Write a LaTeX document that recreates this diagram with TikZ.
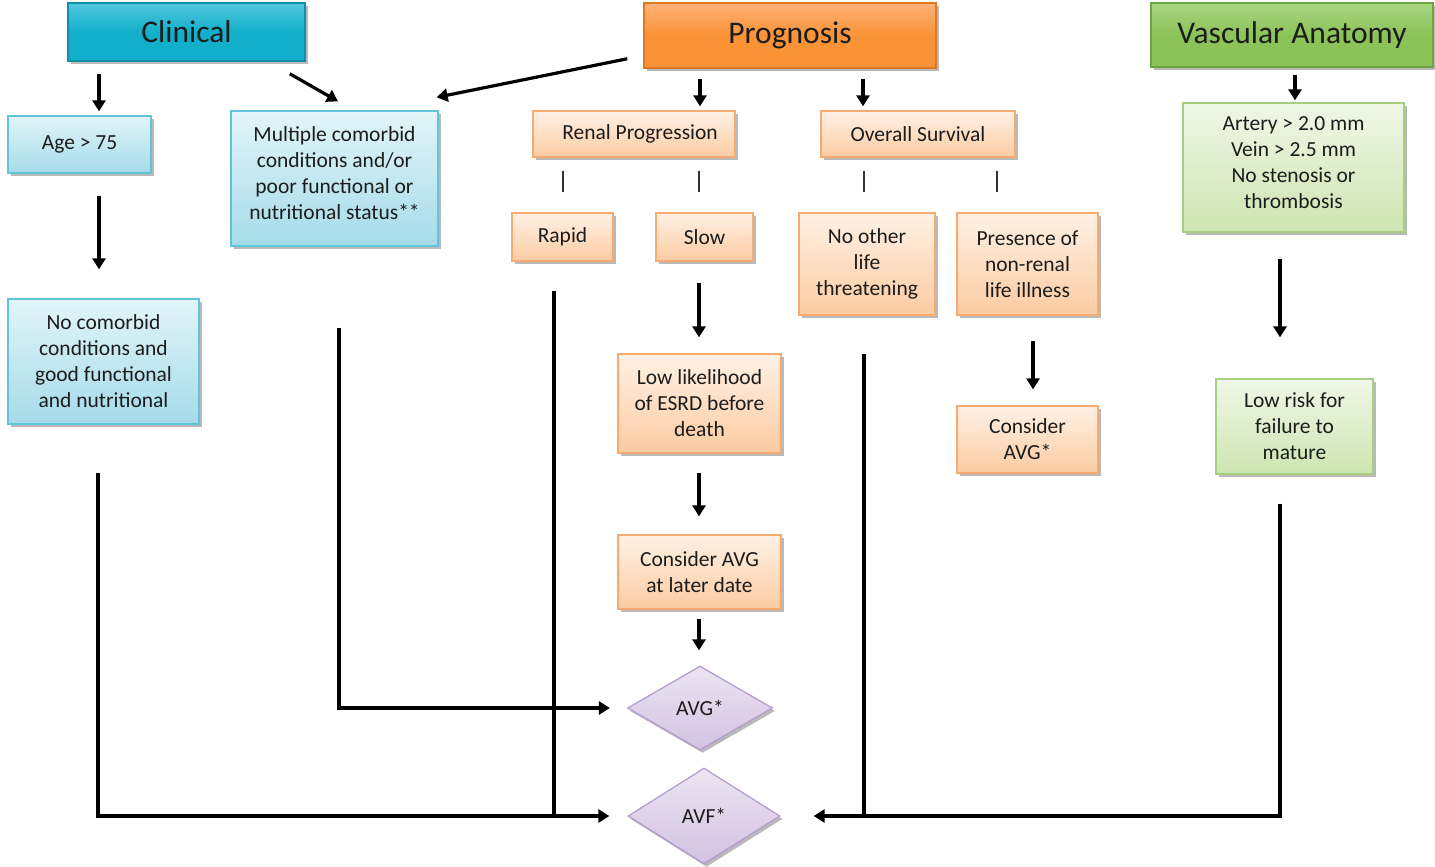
\documentclass[tikz,border=0pt]{standalone}
\usepackage{fontspec}
\setmainfont{Carlito}
\usetikzlibrary{arrows.meta,shapes.geometric,shadows,calc}

\definecolor{txt}{HTML}{1C1C1C}
\definecolor{cyanTop}{HTML}{E2F5F9}
\definecolor{cyanBot}{HTML}{A5DBE9}
\definecolor{cyanLine}{HTML}{62C4DA}
\definecolor{orTop}{HTML}{FFF1E5}
\definecolor{orBot}{HTML}{FCCBA2}
\definecolor{orLine}{HTML}{F7AB70}
\definecolor{grTop}{HTML}{F0F7E7}
\definecolor{grBot}{HTML}{CCE5B1}
\definecolor{grLine}{HTML}{A6CF80}
\definecolor{puTop}{HTML}{ECE4F2}
\definecolor{puBot}{HTML}{D2C2E2}
\definecolor{puLine}{HTML}{B59ECF}
\definecolor{hCyanTop}{HTML}{52C8DE}
\definecolor{hCyan}{HTML}{12AFCB}
\definecolor{hCyanLine}{HTML}{0E8EA7}
\definecolor{hOrTop}{HTML}{FDB27A}
\definecolor{hOr}{HTML}{F99335}
\definecolor{hOrLine}{HTML}{E27722}
\definecolor{hGrTop}{HTML}{AAD583}
\definecolor{hGr}{HTML}{8BC358}
\definecolor{hGrLine}{HTML}{6AA53E}

\tikzset{
  shade/.style={drop shadow={shadow xshift=2.5pt, shadow yshift=-3pt, fill=black!50, opacity=0.55}},
  box/.style={rectangle, draw, line width=1.3pt, inner sep=2pt, align=center,
    text=txt, font=\fontsize{21.5}{26}\selectfont, shade},
  cbox/.style={box, draw=cyanLine, top color=cyanTop, bottom color=cyanBot},
  obox/.style={box, draw=orLine, top color=orTop, bottom color=orBot},
  gbox/.style={box, draw=grLine, top color=grTop, bottom color=grBot},
  header/.style={rectangle, draw, line width=1.5pt, align=center, text=txt,
    font=\fontsize{31.5}{34}\selectfont, shade},
  diam/.style={diamond, draw=puLine, line width=1.3pt, inner sep=0pt,
    top color=puTop, bottom color=puBot, text=txt,
    font=\fontsize{21.5}{24}\selectfont, shade},
  arr/.style={line width=3.2pt, draw=black, -{Triangle[length=11pt,width=13pt]}},
  plain/.style={line width=3.2pt, draw=black},
  tick/.style={line width=2pt, draw=black!80},
}

\begin{document}
\begin{tikzpicture}[x=1pt,y=-1pt]
\fill[white] (0,0) rectangle (1435,867);
\useasboundingbox (0,0) rectangle (1435,867);

% headers
\node[header, draw=hCyanLine, top color=hCyanTop, bottom color=hCyan, middle color=hCyan,
      minimum width=237, minimum height=58] (clin) at (186.5,32) {Clinical};
\node[header, draw=hOrLine, top color=hOrTop, bottom color=hOr, middle color=hOr,
      minimum width=292, minimum height=65] (prog) at (790,35.5) {Prognosis};
\node[header, draw=hGrLine, top color=hGrTop, bottom color=hGr, middle color=hGr,
      minimum width=282, minimum height=64] (vasc) at (1292,35) {Vascular Anatomy};

% clinical branch
\node[cbox, minimum width=143, minimum height=57] (age) at (79.5,144.5) {Age > 75};
\node[cbox, minimum width=207, minimum height=135] (multi) at (334.5,178.5)
  {Multiple comorbid\\conditions and/or\\poor functional or\\nutritional status**\\[-16pt]};
\node[cbox, minimum width=191, minimum height=125] (nocom) at (103.5,361.5)
  {No comorbid\\conditions and\\good functional\\and nutritional};

% prognosis branch
\node[obox, minimum width=202, minimum height=46] (renal) at (634,134) {\hspace*{12pt}Renal Progression};
\node[obox, minimum width=194, minimum height=46] (overall) at (918,134) {Overall Survival};
\node[obox, minimum width=101, minimum height=48] (rapid) at (562.5,237) {Rapid};
\node[obox, minimum width=97, minimum height=48] (slow) at (704.5,237) {Slow};
\node[obox, minimum width=136, minimum height=102] (noother) at (867,264)
  {No other\\life\\threatening};
\node[obox, minimum width=141, minimum height=102] (presence) at (1027.5,264)
  {Presence of\\non-renal\\life illness};
\node[obox, minimum width=163, minimum height=99] (lowlik) at (699.5,403.5)
  {Low likelihood\\of ESRD before\\death};
\node[obox, minimum width=141, minimum height=67] (consA) at (1027.5,439.5)
  {Consider\\AVG*};
\node[obox, minimum width=163, minimum height=74] (later) at (699.5,572)
  {Consider AVG\\at later date};

% vascular branch
\node[gbox, minimum width=221, minimum height=129] (artery) at (1293.5,167.5)
  {Artery > 2.0 mm\\Vein > 2.5 mm\\No stenosis or\\thrombosis\\[-16pt]};
\node[gbox, minimum width=157, minimum height=95] (lowrisk) at (1294.5,426.5)
  {Low risk for\\failure to\\mature};

% outcomes
\node[diam, minimum width=145, minimum height=84] (avg) at (700,708) {AVG*};
\node[diam, minimum width=152, minimum height=96] (avf) at (704,816) {AVF*};

% vertical guide lines of the connectors
\path (99,0) coordinate (xa)
      (700,0) coordinate (xp1)
      (863,0) coordinate (xp2)
      (1295,0) coordinate (xv)
      (563,0) coordinate (xr1)
      (699,0) coordinate (xr2)
      (864,0) coordinate (xo1)
      (997,0) coordinate (xo2)
      (1033,0) coordinate (xc)
      (1280,0) coordinate (xl)
      (339,0) coordinate (xm)
      (98,0) coordinate (xn)
      (554,0) coordinate (xrp);

% header arrows
\draw[arr, shorten <=12pt, shorten >=4pt] (clin.south -| xa) -- (age.north -| xa);
\draw[arr] ($(clin.south east)+(-16,12)$) -- ($(multi.north)+(3.5,-9)$);
\draw[arr] ($(prog.south west)+(-16,-10)$) -- ($(multi.north east)+(-2,-13)$);
\draw[arr, shorten <=10pt, shorten >=4pt] (prog.south -| xp1) -- (renal.north -| xp1);
\draw[arr, shorten <=10pt, shorten >=4pt] (prog.south -| xp2) -- (overall.north -| xp2);
\draw[arr, shorten <=7pt, shorten >=2pt] (vasc.south -| xv) -- (artery.north -| xv);

% clinical
\draw[arr, shorten <=22pt, shorten >=29pt] (age.south -| xa) -- (nocom.north -| xa);

% prognosis branches
\draw[tick, shorten <=13pt, shorten >=20pt] (renal.south -| xr1) -- (rapid.north -| xr1);
\draw[tick, shorten <=13pt, shorten >=20pt] (renal.south -| xr2) -- (slow.north -| xr2);
\draw[tick, shorten <=13pt, shorten >=20pt] (overall.south -| xo1) -- (noother.north -| xo1);
\draw[tick, shorten <=13pt, shorten >=20pt] (overall.south -| xo2) -- (presence.north -| xo2);

\draw[arr, shorten <=21pt, shorten >=16pt] (slow.south -| xr2) -- (lowlik.north -| xr2);
\draw[arr, shorten <=19pt, shorten >=18pt] (lowlik.south -| xr2) -- (later.north -| xr2);
\draw[arr, shorten <=9pt, shorten >=15pt] (later.south -| xr2) -- (avg.north -| xr2);
\draw[arr, shorten <=25pt, shorten >=16pt] (presence.south -| xc) -- (consA.north -| xc);

% vascular
\draw[arr, shorten <=26pt, shorten >=41pt] (artery.south -| xl) -- (lowrisk.north -| xl);

% routes to the outcomes
\draw[arr, shorten <=81pt, shorten >=17pt] (multi.south -| xm) |- (avg.west);
\draw[arr, shorten <=48pt, shorten >=18pt] (nocom.south -| xn) |- (avf.west);
\draw[plain, shorten <=29pt] (rapid.south -| xrp) -- (avf.west -| xrp);
\draw[arr, shorten <=38pt, shorten >=33pt] (noother.south -| xo1) |- (avf.east);
\draw[plain, shorten <=29pt] (lowrisk.south -| xl) |- (avf.east -| xo1);

\end{tikzpicture}
\end{document}
